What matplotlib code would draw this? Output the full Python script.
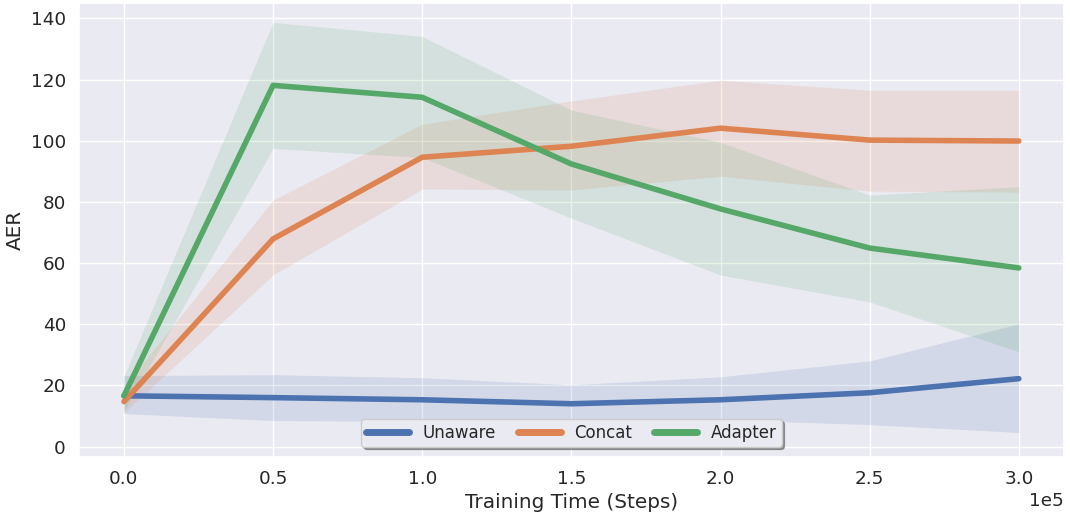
import numpy as np
import matplotlib
matplotlib.use("Agg")
import matplotlib.pyplot as plt
import seaborn as sns

steps = np.array([0.0, 0.5, 1.0, 1.5, 2.0, 2.5, 3.0]) * 1e5

unaware_mean = [16.6, 16.0, 15.3, 14.0, 15.3, 17.6, 22.2]
unaware_low = [10.8, 8.5, 8.2, 8.2, 8.8, 7.2, 4.6]
unaware_high = [23.2, 23.5, 22.5, 20.2, 22.8, 28.0, 40.1]

concat_mean = [14.7, 67.9, 94.6, 98.2, 104.1, 100.2, 99.9]
concat_low = [11.0, 56.1, 84.2, 83.9, 88.4, 83.5, 83.2]
concat_high = [19.5, 80.6, 105.4, 113.0, 119.8, 116.5, 116.5]

adapter_mean = [16.6, 118.1, 114.2, 92.4, 77.7, 64.9, 58.4]
adapter_low = [11.5, 97.5, 94.5, 74.7, 56.1, 47.3, 31.0]
adapter_high = [23.0, 138.7, 134.1, 110.0, 99.5, 82.2, 85.0]

labels = ["Unaware", "Concat", "Adapter"]

sns.set_theme(style="darkgrid", font_scale=1.2)
colors = sns.color_palette("deep")

fig, ax = plt.subplots(figsize=(10.7, 5.16), dpi=100)

series = [
    (unaware_mean, unaware_low, unaware_high),
    (concat_mean, concat_low, concat_high),
    (adapter_mean, adapter_low, adapter_high),
]
for i, (m, lo, hi) in enumerate(series):
    ax.plot(steps, m, color=colors[i], lw=4, label=labels[i])
    ax.fill_between(steps, lo, hi, color=colors[i], alpha=0.15, lw=0)

ax.set_xlabel("Training Time (Steps)")
ax.set_ylabel("AER")
ax.set_ylim(-3.3, 145)
ax.ticklabel_format(style="sci", axis="x", scilimits=(0, 0))
leg = ax.legend(loc="lower center", ncol=3, shadow=True, frameon=True,
                fontsize=12, handlelength=2.6, columnspacing=1.3,
                borderpad=0.3, borderaxespad=0.6)
for h in leg.get_lines():
    h.set_linewidth(5)

fig.subplots_adjust(left=0.074, right=0.994, top=0.994, bottom=0.115)
fig.savefig("out.png", dpi=100)
